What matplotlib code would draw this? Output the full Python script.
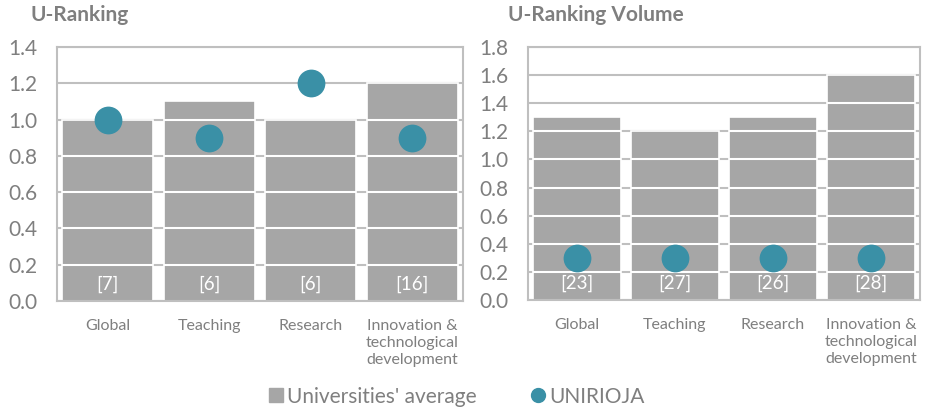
import matplotlib
matplotlib.use("Agg")
import matplotlib.pyplot as plt
from matplotlib.lines import Line2D

plt.rcParams["font.family"] = ["Lato", "DejaVu Sans"]

categorias = ["Global", "Teaching", "Research",
              "Innovation &\ntechnological\ndevelopment"]

media_ranking = [1.0, 1.1, 1.0, 1.2]
unirioja_ranking = [1.0, 0.9, 1.2, 0.9]
posicion_ranking = ["[7]", "[6]", "[6]", "[16]"]

media_volumen = [1.3, 1.2, 1.3, 1.6]
unirioja_volumen = [0.3, 0.3, 0.3, 0.3]
posicion_volumen = ["[23]", "[27]", "[26]", "[28]"]

GRIS_BARRA = "#a6a6a6"
GRIS_TEXTO = "#7f7f7f"
GRIS_REJILLA = "#bfbfbf"
AZUL = "#3a90a6"


def panel(ax, titulo, medias, puntos, etiquetas, ymax, paso, x_titulo):
    x = range(len(categorias))
    ancho = 0.9
    ticks = [round(i * paso, 1) for i in range(int(round(ymax / paso)) + 1)]
    for t in ticks:
        ax.axhline(t, color=GRIS_REJILLA, lw=1.5, zorder=0)
    ax.bar(x, medias, width=ancho, color=GRIS_BARRA, edgecolor="white",
           linewidth=1.2, zorder=1)
    # lineas blancas de la rejilla sobre las barras
    for i, h in enumerate(medias):
        for t in ticks:
            if 0 < t < h:
                ax.hlines(t, i - ancho / 2, i + ancho / 2, color="white",
                          lw=1.5, zorder=2)
    ax.scatter(x, puntos, s=400, color=AZUL, zorder=3, linewidths=0)
    for i, etq in enumerate(etiquetas):
        ax.text(i, 0.065 * ymax, etq, color="white", ha="center", va="center",
                fontsize=13.5, zorder=4)
    ax.set_xlim(-0.5, len(categorias) - 0.5)
    ax.set_ylim(0, ymax)
    ax.set_yticks(ticks)
    ax.set_yticklabels([f"{t:.1f}" for t in ticks])
    ax.set_xticks(list(x))
    ax.set_xticklabels(categorias, fontsize=11.5, color=GRIS_TEXTO, va="top",
                       linespacing=1.25)
    ax.tick_params(axis="y", length=0, pad=14, labelsize=15, labelcolor=GRIS_TEXTO)
    ax.tick_params(axis="x", length=0, pad=13)
    for s in ax.spines.values():
        s.set_color(GRIS_REJILLA)
        s.set_linewidth(1.5)
    ax.text(x_titulo, 0.963, titulo, transform=ax.figure.transFigure,
            ha="left", va="center", fontsize=15, fontweight="bold",
            color=GRIS_TEXTO)


fig = plt.figure(figsize=(9.3, 4.09), dpi=100)
ax1 = fig.add_axes([0.0613, 0.264, 0.4366, 0.621])
ax2 = fig.add_axes([0.5677, 0.2665, 0.4215, 0.6186])

panel(ax1, "U-Ranking", media_ranking, unirioja_ranking, posicion_ranking,
      1.4, 0.2, 30 / 930)
panel(ax2, "U-Ranking Volume", media_volumen, unirioja_volumen, posicion_volumen,
      1.8, 0.2, 508 / 930)

leyenda = [
    Line2D([], [], marker="s", ls="", color=GRIS_BARRA, markersize=10,
           label="Universities' average"),
    Line2D([], [], marker="o", ls="", color=AZUL, markersize=10, label="UNIRIOJA"),
]
fig.legend(handles=leyenda, loc="center", bbox_to_anchor=(0.4905, 0.03), ncol=2,
           frameon=False, fontsize=15, labelcolor=GRIS_TEXTO, handlelength=0.8,
           handletextpad=0.15, columnspacing=2.55)

fig.savefig("out.png", dpi=100)
